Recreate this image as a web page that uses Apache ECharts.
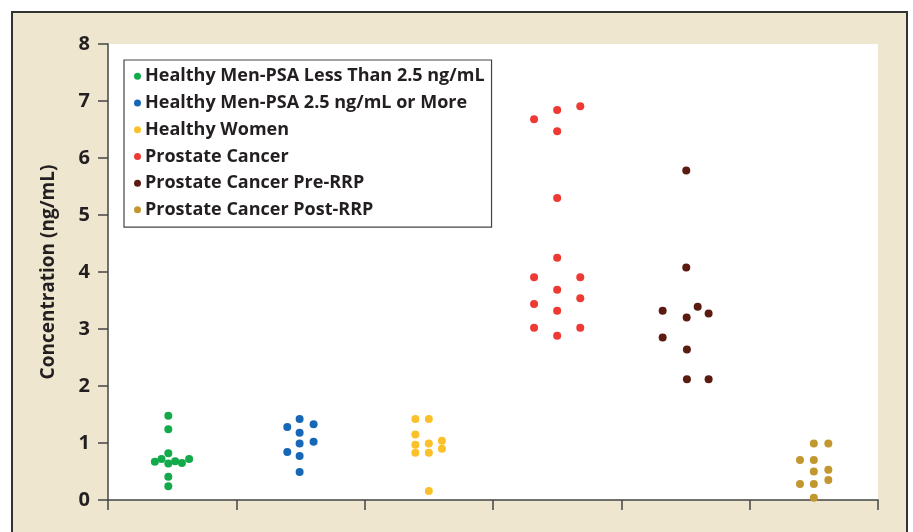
<!DOCTYPE html>
<html>
  <head>
    <meta charset="utf-8" />
    <title>ECharts</title>
    <script src="https://cdn.jsdelivr.net/npm/echarts@6/dist/echarts.min.js"></script>
    <style>
      html, body { margin: 0; padding: 0; background: #fff; }
    </style>
  </head>
  <body>
    <div id="main" style="width: 913px; height: 532px"></div>
    <script type="text/javascript">
      // groups, in legend order
      var groupNames = [
        "Healthy Men-PSA Less Than 2.5 ng/mL",
        "Healthy Men-PSA 2.5 ng/mL or More",
        "Healthy Women",
        "Prostate Cancer",
        "Prostate Cancer Pre-RRP",
        "Prostate Cancer Post-RRP"
      ];
      var groupColors = ["#12AA4A", "#1668B6", "#FCC02A", "#EE3A33", "#5C1B10", "#C3972F"];

      // concentration values (ng/mL)
      var menLowValues = [1.48, 1.24, 0.82, 0.67, 0.72, 0.64, 0.68, 0.65, 0.72, 0.41, 0.24];
      var menHighValues = [1.42, 1.28, 1.33, 1.18, 0.99, 1.02, 0.84, 0.77, 0.49];
      var womenValues = [1.42, 1.42, 1.15, 0.97, 0.99, 1.04, 0.83, 0.83, 0.90, 0.16];
      var cancerValues = [6.68, 6.84, 6.91, 6.47, 5.30, 4.25, 3.91, 3.91, 3.69, 3.54, 3.44, 3.32, 3.02, 3.02, 2.88];
      var preValues = [5.78, 4.08, 3.32, 3.39, 3.27, 3.20, 2.85, 2.64, 2.12, 2.12];
      var postValues = [0.99, 0.99, 0.70, 0.70, 0.50, 0.53, 0.35, 0.28, 0.28, 0.04];

      // horizontal spread of each dot inside its group (fraction of a group width)
      var menLowSpread = [-0.03, -0.03, -0.03, -0.135, -0.083, -0.03, 0.023, 0.076, 0.132, -0.03, -0.03];
      var menHighSpread = [-0.007, -0.103, 0.102, -0.007, -0.007, 0.102, -0.103, -0.007, -0.007];
      var womenSpread = [-0.105, 0, -0.105, -0.105, 0, 0.102, -0.105, 0, 0.102, 0];
      var cancerSpread = [-0.18, 0, 0.18, 0, 0, 0, -0.18, 0.18, 0, 0.18, -0.18, 0, -0.18, 0.18, 0];
      var preSpread = [0.006, 0.006, -0.178, 0.095, 0.18, 0.009, -0.178, 0.011, 0.011, 0.18];
      var postSpread = [0, 0.113, -0.108, 0, 0, 0.113, 0.113, -0.108, 0, 0];

      var yTicks = [0, 1, 2, 3, 4, 5, 6, 7, 8];

      var allValues = [menLowValues, menHighValues, womenValues, cancerValues, preValues, postValues];
      var allSpread = [menLowSpread, menHighSpread, womenSpread, cancerSpread, preSpread, postSpread];

      var myChart = echarts.init(document.getElementById("main"), null, { renderer: "canvas" });

      var series = groupNames.map(function (name, g) {
        return {
          name: name,
          type: "scatter",
          symbol: "circle",
          symbolSize: 8,
          itemStyle: { color: groupColors[g], opacity: 1 },
          emphasis: { disabled: true },
          data: allValues[g].map(function (v, i) {
            return [g + 0.5 + allSpread[g][i], v];
          })
        };
      });

      var option = {
        backgroundColor: "#ffffff",
        animation: false,
        graphic: [
          {
            type: "rect",
            z: -10,
            silent: true,
            shape: { x: 12, y: 12, width: 895, height: 540 },
            style: { fill: "#EEE6CF", stroke: "#333333", lineWidth: 2 }
          }
        ],
        grid: {
          left: 108,
          right: 35,
          top: 44,
          bottom: 32,
          show: true,
          backgroundColor: "#ffffff",
          borderWidth: 0
        },
        legend: {
          orient: "vertical",
          left: 124,
          top: 60,
          padding: [6, 7, 7, 10],
          itemGap: 6,
          itemWidth: 7,
          itemHeight: 7,
          icon: "circle",
          borderColor: "#444444",
          borderWidth: 1.2,
          backgroundColor: "#ffffff",
          textStyle: {
            fontFamily: "Open Sans",
            fontWeight: "bold",
            fontSize: 18,
            lineHeight: 20.7,
            color: "#231F20",
            padding: [0, 0, 0, -1]
          },
          data: groupNames
        },
        xAxis: {
          type: "value",
          min: 0,
          max: 6,
          interval: 1,
          axisLine: { show: true, lineStyle: { color: "#444444", width: 1.5 } },
          axisTick: { show: true, length: 10, lineStyle: { color: "#444444", width: 1.5 } },
          axisLabel: { show: false },
          splitLine: { show: false }
        },
        yAxis: {
          type: "value",
          min: yTicks[0],
          max: yTicks[yTicks.length - 1],
          interval: 1,
          name: "Concentration (ng/mL)",
          nameLocation: "middle",
          nameGap: 50,
          nameTextStyle: {
            fontFamily: "Open Sans",
            fontWeight: "bold",
            fontSize: 19,
            color: "#231F20"
          },
          axisLine: { show: true, lineStyle: { color: "#444444", width: 1.5 } },
          axisTick: { show: true, length: 10, lineStyle: { color: "#444444", width: 1.5 } },
          axisLabel: {
            margin: 18,
            fontFamily: "Open Sans",
            fontWeight: "bold",
            fontSize: 20,
            color: "#231F20"
          },
          splitLine: { show: false }
        },
        series: series
      };

      myChart.setOption(option);
    </script>
  </body>
</html>
